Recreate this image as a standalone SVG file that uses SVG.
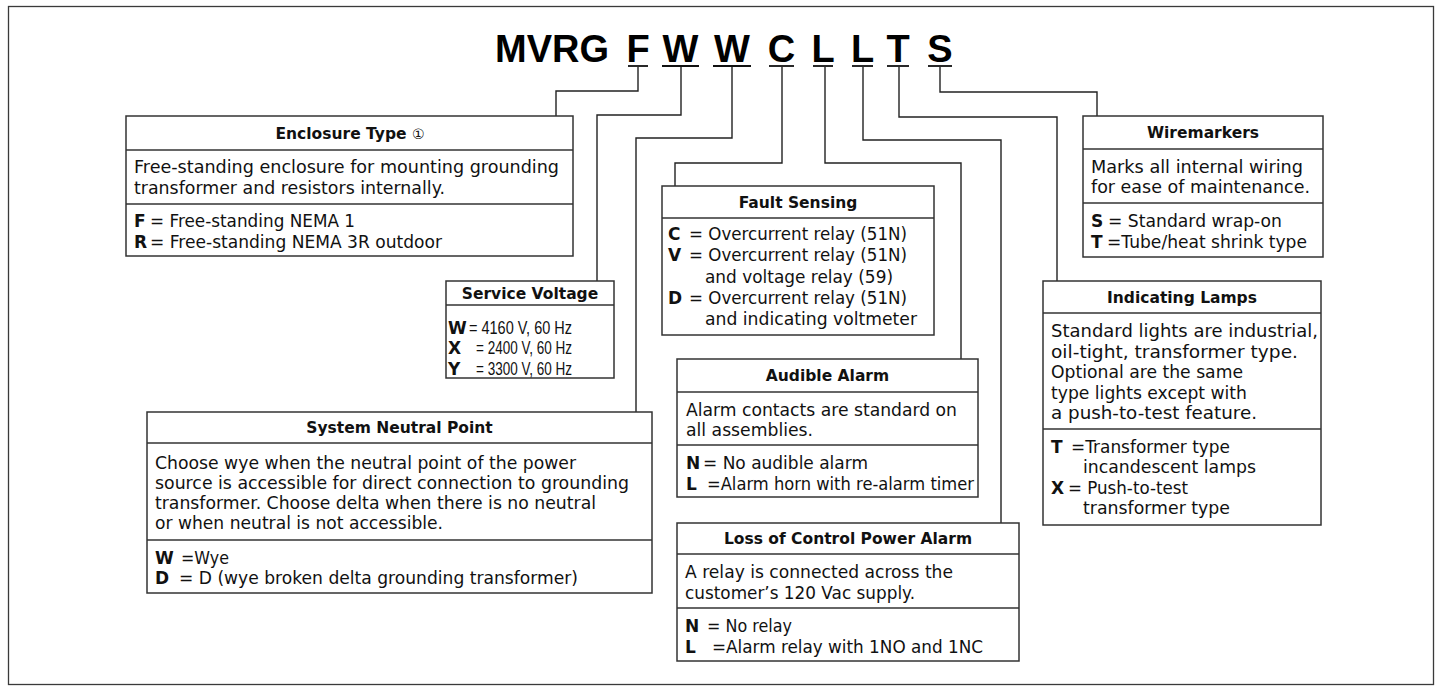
<svg xmlns="http://www.w3.org/2000/svg" width="1442" height="691" viewBox="0 0 1442 691">
<style>
.frame{fill:none;stroke:#3a3a3a;stroke-width:1.3}
.box{fill:#fff;stroke:#333;stroke-width:1.5}
.sep{stroke:#333;stroke-width:1.5}
.conn{fill:none;stroke:#222;stroke-width:1.4}
.ul{stroke:#111;stroke-width:1.8}
.code{font-family:"Liberation Sans",Arial,sans-serif;font-weight:bold;font-size:38px;fill:#000}
.ttl{font-family:"DejaVu Sans","Noto Sans CJK JP",sans-serif;font-weight:bold;font-size:15.5px;fill:#111;text-anchor:middle}
.b{font-family:"DejaVu Sans",sans-serif;font-size:17px;fill:#111}
.n{font-family:"Liberation Sans",Arial,sans-serif;font-size:17.5px;fill:#111}
.k{font-family:"DejaVu Sans",sans-serif;font-weight:bold;font-size:17px;fill:#111}
.ci{font-weight:normal;font-size:14px}
</style>
<rect x="0" y="0" width="1442" height="691" fill="#fff"/>
<rect class="frame" x="8.5" y="6.5" width="1425" height="678"/>

<g id="code">
<text class="code" x="609" y="62" text-anchor="end">MVRG</text>
<text class="code" x="638" y="62" text-anchor="middle">F</text>
<text class="code" x="680.5" y="62" text-anchor="middle">W</text>
<text class="code" x="732" y="62" text-anchor="middle">W</text>
<text class="code" x="781.5" y="62" text-anchor="middle">C</text>
<text class="code" x="823" y="62" text-anchor="middle">L</text>
<text class="code" x="862.5" y="62" text-anchor="middle">L</text>
<text class="code" x="898" y="62" text-anchor="middle">T</text>
<text class="code" x="940" y="62" text-anchor="middle">S</text>
<line class="ul" x1="628" y1="66" x2="648" y2="66"/>
<line class="ul" x1="662" y1="66" x2="699" y2="66"/>
<line class="ul" x1="713" y1="66" x2="751" y2="66"/>
<line class="ul" x1="769" y1="66" x2="794" y2="66"/>
<line class="ul" x1="813" y1="66" x2="833" y2="66"/>
<line class="ul" x1="852" y1="66" x2="873" y2="66"/>
<line class="ul" x1="887" y1="66" x2="909" y2="66"/>
<line class="ul" x1="928" y1="66" x2="952" y2="66"/>
</g>

<g id="connectors">
<path class="conn" d="M638,67 V91 H556 V116"/>
<path class="conn" d="M681,67 V115 H597 V281"/>
<path class="conn" d="M732,67 V138 H636 V412"/>
<path class="conn" d="M782,67 V163 H675 V186"/>
<path class="conn" d="M825,67 V163 H961 V359"/>
<path class="conn" d="M863,67 V140 H1001 V523"/>
<path class="conn" d="M899,67 V117 H1057 V281"/>
<path class="conn" d="M940,67 V92 H1097 V116"/>
</g>

<g id="enclosure-type">
<rect class="box" x="126" y="116" width="447" height="140"/>
<line class="sep" x1="126" y1="150" x2="573" y2="150"/>
<line class="sep" x1="126" y1="204" x2="573" y2="204"/>
<text class="ttl" x="350" y="138.5">Enclosure Type <tspan class="ci">①</tspan></text>
<text class="b" x="134" y="173" textLength="425" lengthAdjust="spacingAndGlyphs">Free-standing enclosure for mounting grounding</text>
<text class="b" x="134" y="194" textLength="311" lengthAdjust="spacingAndGlyphs">transformer and resistors internally.</text>
<text class="k" x="134" y="227">F</text>
<text class="b" x="150" y="227" textLength="205" lengthAdjust="spacingAndGlyphs">= Free-standing NEMA 1</text>
<text class="k" x="134" y="248">R</text>
<text class="b" x="150" y="248" textLength="292" lengthAdjust="spacingAndGlyphs">= Free-standing NEMA 3R outdoor</text>
</g>

<g id="service-voltage">
<rect class="box" x="446" y="281" width="168" height="97"/>
<line class="sep" x1="446" y1="305" x2="614" y2="305"/>
<text class="ttl" x="530" y="298.5">Service Voltage</text>
<text class="k" x="448" y="333.5">W</text>
<text class="n" x="469" y="333.5" textLength="103" lengthAdjust="spacingAndGlyphs">= 4160 V, 60 Hz</text>
<text class="k" x="448" y="354">X</text>
<text class="n" x="476" y="354" textLength="96" lengthAdjust="spacingAndGlyphs">= 2400 V, 60 Hz</text>
<text class="k" x="448" y="374.5">Y</text>
<text class="n" x="476" y="374.5" textLength="96" lengthAdjust="spacingAndGlyphs">= 3300 V, 60 Hz</text>
</g>

<g id="system-neutral-point">
<rect class="box" x="147" y="412" width="505" height="181"/>
<line class="sep" x1="147" y1="443" x2="652" y2="443"/>
<line class="sep" x1="147" y1="540" x2="652" y2="540"/>
<text class="ttl" x="399.5" y="433">System Neutral Point</text>
<text class="b" x="155" y="468.5" textLength="421" lengthAdjust="spacingAndGlyphs">Choose wye when the neutral point of the power</text>
<text class="b" x="155" y="488.5" textLength="474" lengthAdjust="spacingAndGlyphs">source is accessible for direct connection to grounding</text>
<text class="b" x="155" y="508.5" textLength="441" lengthAdjust="spacingAndGlyphs">transformer. Choose delta when there is no neutral</text>
<text class="b" x="155" y="528.5" textLength="288" lengthAdjust="spacingAndGlyphs">or when neutral is not accessible.</text>
<text class="k" x="155" y="564">W</text>
<text class="b" x="181" y="564" textLength="48" lengthAdjust="spacingAndGlyphs">=Wye</text>
<text class="k" x="155" y="584">D</text>
<text class="b" x="179" y="584" textLength="399" lengthAdjust="spacingAndGlyphs">= D (wye broken delta grounding transformer)</text>
</g>

<g id="fault-sensing">
<rect class="box" x="662" y="186" width="272" height="149"/>
<line class="sep" x1="662" y1="218" x2="934" y2="218"/>
<text class="ttl" x="798" y="207.5">Fault Sensing</text>
<text class="k" x="668" y="240">C</text>
<text class="b" x="689" y="240" textLength="218" lengthAdjust="spacingAndGlyphs">= Overcurrent relay (51N)</text>
<text class="k" x="668" y="261.3">V</text>
<text class="b" x="689" y="261.3" textLength="218" lengthAdjust="spacingAndGlyphs">= Overcurrent relay (51N)</text>
<text class="b" x="705" y="282.6" textLength="188" lengthAdjust="spacingAndGlyphs">and voltage relay (59)</text>
<text class="k" x="668" y="303.9">D</text>
<text class="b" x="689" y="303.9" textLength="218" lengthAdjust="spacingAndGlyphs">= Overcurrent relay (51N)</text>
<text class="b" x="705" y="325.2" textLength="212" lengthAdjust="spacingAndGlyphs">and indicating voltmeter</text>
</g>

<g id="audible-alarm">
<rect class="box" x="677" y="359" width="301" height="138"/>
<line class="sep" x1="677" y1="392" x2="978" y2="392"/>
<line class="sep" x1="677" y1="445" x2="978" y2="445"/>
<text class="ttl" x="827.5" y="381">Audible Alarm</text>
<text class="b" x="686" y="416" textLength="271" lengthAdjust="spacingAndGlyphs">Alarm contacts are standard on</text>
<text class="b" x="686" y="436" textLength="127" lengthAdjust="spacingAndGlyphs">all assemblies.</text>
<text class="k" x="686" y="469">N</text>
<text class="b" x="703" y="469" textLength="165" lengthAdjust="spacingAndGlyphs">= No audible alarm</text>
<text class="k" x="686" y="490">L</text>
<text class="b" x="707" y="490" textLength="267" lengthAdjust="spacingAndGlyphs">=Alarm horn with re-alarm timer</text>
</g>

<g id="loss-of-control-power-alarm">
<rect class="box" x="677" y="523" width="342" height="138"/>
<line class="sep" x1="677" y1="554" x2="1019" y2="554"/>
<line class="sep" x1="677" y1="608" x2="1019" y2="608"/>
<text class="ttl" x="848" y="544">Loss of Control Power Alarm</text>
<text class="b" x="685" y="578" textLength="268" lengthAdjust="spacingAndGlyphs">A relay is connected across the</text>
<text class="b" x="685" y="599" textLength="230" lengthAdjust="spacingAndGlyphs">customer’s 120 Vac supply.</text>
<text class="k" x="685" y="632">N</text>
<text class="b" x="707" y="632" textLength="85" lengthAdjust="spacingAndGlyphs">= No relay</text>
<text class="k" x="685" y="653">L</text>
<text class="b" x="712" y="653" textLength="271" lengthAdjust="spacingAndGlyphs">=Alarm relay with 1NO and 1NC</text>
</g>

<g id="wiremarkers">
<rect class="box" x="1083" y="116" width="240" height="141"/>
<line class="sep" x1="1083" y1="149" x2="1323" y2="149"/>
<line class="sep" x1="1083" y1="203" x2="1323" y2="203"/>
<text class="ttl" x="1203" y="138">Wiremarkers</text>
<text class="b" x="1091" y="173" textLength="212" lengthAdjust="spacingAndGlyphs">Marks all internal wiring</text>
<text class="b" x="1091" y="193" textLength="219" lengthAdjust="spacingAndGlyphs">for ease of maintenance.</text>
<text class="k" x="1091" y="227">S</text>
<text class="b" x="1108" y="227" textLength="174" lengthAdjust="spacingAndGlyphs">= Standard wrap-on</text>
<text class="k" x="1091" y="248">T</text>
<text class="b" x="1107" y="248" textLength="200" lengthAdjust="spacingAndGlyphs">=Tube/heat shrink type</text>
</g>

<g id="indicating-lamps">
<rect class="box" x="1043" y="281" width="278" height="244"/>
<line class="sep" x1="1043" y1="313" x2="1321" y2="313"/>
<line class="sep" x1="1043" y1="429" x2="1321" y2="429"/>
<text class="ttl" x="1182" y="302.5">Indicating Lamps</text>
<text class="b" x="1051" y="337" textLength="267" lengthAdjust="spacingAndGlyphs">Standard lights are industrial,</text>
<text class="b" x="1051" y="357.5" textLength="247" lengthAdjust="spacingAndGlyphs">oil-tight, transformer type.</text>
<text class="b" x="1051" y="378" textLength="192" lengthAdjust="spacingAndGlyphs">Optional are the same</text>
<text class="b" x="1051" y="398.5" textLength="196" lengthAdjust="spacingAndGlyphs">type lights except with</text>
<text class="b" x="1051" y="419" textLength="206" lengthAdjust="spacingAndGlyphs">a push-to-test feature.</text>
<text class="k" x="1051" y="452.5">T</text>
<text class="b" x="1071" y="452.5" textLength="159" lengthAdjust="spacingAndGlyphs">=Transformer type</text>
<text class="b" x="1083" y="473" textLength="173" lengthAdjust="spacingAndGlyphs">incandescent lamps</text>
<text class="k" x="1051" y="493.5">X</text>
<text class="b" x="1068" y="493.5" textLength="120" lengthAdjust="spacingAndGlyphs">= Push-to-test</text>
<text class="b" x="1083" y="514" textLength="147" lengthAdjust="spacingAndGlyphs">transformer type</text>
</g>
</svg>
